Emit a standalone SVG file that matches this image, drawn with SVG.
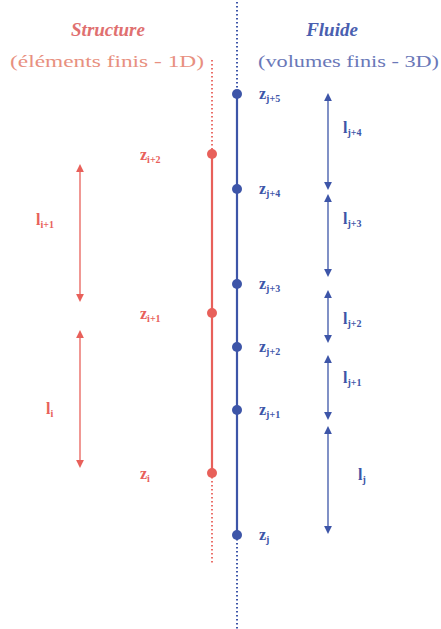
<svg xmlns="http://www.w3.org/2000/svg" width="441" height="629" viewBox="0 0 441 629">
<style>
.r{fill:#e8605a}
.b{fill:#3d55a8}
.t{font-family:"Liberation Serif","DejaVu Serif","Times New Roman",serif}
.hdr{font-size:19px;font-style:italic;font-weight:bold}
.sub{font-size:16px}
.lab{font-size:16px;font-weight:bold}
.s{font-size:10px}
.rl{stroke:#e8605a;fill:none}
.bl{stroke:#3d55a8;fill:none}
</style>
<defs>
<marker id="ar" viewBox="0 0 10 10" refX="5" refY="5" markerWidth="6" markerHeight="6" orient="auto-start-reverse"><path d="M0,0 L10,5 L0,10 z" fill="#e8605a"/></marker>
<marker id="ab" viewBox="0 0 10 10" refX="5" refY="5" markerWidth="6" markerHeight="6" orient="auto-start-reverse"><path d="M0,0 L10,5 L0,10 z" fill="#3d55a8"/></marker>
</defs>
<g id="headers" class="t">
<text x="108" y="36" text-anchor="middle" class="hdr" fill="#e07070">Structure</text>
<text x="10" y="67" class="sub" fill="#e89080" textLength="194" lengthAdjust="spacingAndGlyphs">(éléments finis  - 1D)</text>
<text x="332" y="36" text-anchor="middle" class="hdr" fill="#4a5fb0">Fluide</text>
<text x="258" y="67" class="sub" fill="#6a78b8" textLength="181" lengthAdjust="spacingAndGlyphs">(volumes finis - 3D)</text>
</g>
<g id="connectors">
<line x1="237" y1="2" x2="237" y2="93" class="bl" stroke-width="2" stroke-dasharray="1.5 2.5"/>
<line x1="237" y1="93" x2="237" y2="535" class="bl" stroke-width="2.2"/>
<line x1="237" y1="535" x2="237" y2="629" class="bl" stroke-width="2" stroke-dasharray="1.5 2.5"/>
<line x1="212" y1="60" x2="212" y2="154" class="rl" stroke-width="1.8" stroke-dasharray="1.5 2.5"/>
<line x1="212" y1="154" x2="212" y2="473" class="rl" stroke-width="2.2"/>
<line x1="212" y1="473" x2="212" y2="565" class="rl" stroke-width="1.8" stroke-dasharray="1.5 2.5"/>
<line x1="80" y1="168" x2="80" y2="298" class="rl" stroke-width="1.3" marker-start="url(#ar)" marker-end="url(#ar)"/>
<line x1="80" y1="334" x2="80" y2="464" class="rl" stroke-width="1.3" marker-start="url(#ar)" marker-end="url(#ar)"/>
<line x1="328" y1="97" x2="328" y2="186" class="bl" stroke-width="1.3" marker-start="url(#ab)" marker-end="url(#ab)"/>
<line x1="328" y1="198" x2="328" y2="273" class="bl" stroke-width="1.3" marker-start="url(#ab)" marker-end="url(#ab)"/>
<line x1="328" y1="294" x2="328" y2="339" class="bl" stroke-width="1.3" marker-start="url(#ab)" marker-end="url(#ab)"/>
<line x1="328" y1="359" x2="328" y2="416" class="bl" stroke-width="1.3" marker-start="url(#ab)" marker-end="url(#ab)"/>
<line x1="328" y1="430" x2="328" y2="530" class="bl" stroke-width="1.3" marker-start="url(#ab)" marker-end="url(#ab)"/>
</g>
<g id="n-zi2"><circle cx="212" cy="154" r="5" class="r"/><text x="140" y="160" class="t lab r">z<tspan class="s" dy="3">i+2</tspan></text></g>
<g id="n-zi1"><circle cx="212" cy="313" r="5" class="r"/><text x="140" y="319" class="t lab r">z<tspan class="s" dy="3">i+1</tspan></text></g>
<g id="n-zi"><circle cx="212" cy="473" r="5" class="r"/><text x="140" y="479" class="t lab r">z<tspan class="s" dy="3">i</tspan></text></g>
<g id="n-zj5"><circle cx="237" cy="94" r="5" class="b"/><text x="259" y="99" class="t lab b">z<tspan class="s" dy="3">j+5</tspan></text></g>
<g id="n-zj4"><circle cx="237" cy="189" r="5" class="b"/><text x="259" y="194" class="t lab b">z<tspan class="s" dy="3">j+4</tspan></text></g>
<g id="n-zj3"><circle cx="237" cy="284" r="5" class="b"/><text x="259" y="289" class="t lab b">z<tspan class="s" dy="3">j+3</tspan></text></g>
<g id="n-zj2"><circle cx="237" cy="347" r="5" class="b"/><text x="259" y="352" class="t lab b">z<tspan class="s" dy="3">j+2</tspan></text></g>
<g id="n-zj1"><circle cx="237" cy="410" r="5" class="b"/><text x="259" y="415" class="t lab b">z<tspan class="s" dy="3">j+1</tspan></text></g>
<g id="n-zj"><circle cx="237" cy="535" r="5" class="b"/><text x="259" y="540" class="t lab b">z<tspan class="s" dy="3">j</tspan></text></g>
<g id="lengths" class="t lab">
<text x="36" y="225" class="r">l<tspan class="s" dy="3">i+1</tspan></text>
<text x="46" y="414" class="r">l<tspan class="s" dy="3">i</tspan></text>
<text x="343" y="133" class="b">l<tspan class="s" dy="3">j+4</tspan></text>
<text x="343" y="224" class="b">l<tspan class="s" dy="3">j+3</tspan></text>
<text x="343" y="324" class="b">l<tspan class="s" dy="3">j+2</tspan></text>
<text x="343" y="383" class="b">l<tspan class="s" dy="3">j+1</tspan></text>
<text x="358" y="480" class="b">l<tspan class="s" dy="3">j</tspan></text>
</g>
</svg>
